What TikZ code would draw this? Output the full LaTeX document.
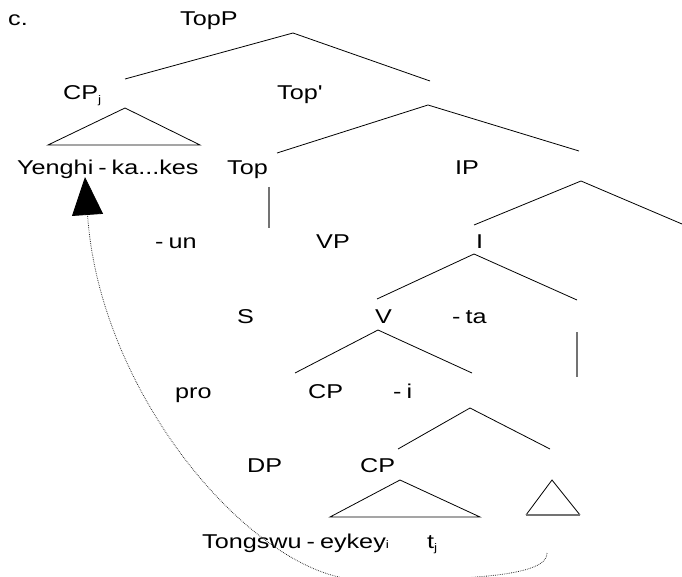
\documentclass[tikz,border=0pt]{standalone}
\usepackage{fontspec}
\setmainfont{Liberation Sans}[FakeStretch=1.26,Ligatures=TeXOff]
\usetikzlibrary{arrows.meta}
% small lowered index letter
\newcommand{\lsub}[1]{\raisebox{-0.3ex}{\fontsize{11}{11}\selectfont #1}}
% spaced hyphen between morphemes
\newcommand{\hy}{\hspace{0.25em}-\hspace{0.25em}}
\begin{document}
\begin{tikzpicture}[x=1pt,y=-1pt,
  lbl/.style={anchor=base west, inner sep=0pt, font=\fontsize{20}{23}\selectfont},
  branch/.style={line width=0.8pt, black},
  faint/.style={line width=1.1pt, black!55},
  trace/.style={draw=black!85, line width=0.8pt, dash pattern=on 0.7pt off 1.1pt,
    -{Triangle[length=38pt,width=31pt,color=black]}}]
\useasboundingbox (0,0) rectangle (682,577);

% labels
\node[lbl] (ex)    at (8,26)    {c.};
\node[lbl] (topP)  at (180,26)  {TopP};
\node[lbl] (cpj)   at (63,100)  {CP\lsub{j}};
\node[lbl] (topb)  at (277,100) {Top'};
\node[lbl] (yeng)  at (17,175)  {Yenghi\hy ka...kes};
\node[lbl] (top)   at (227,175) {Top};
\node[lbl] (ip)    at (455,175) {IP};
\node[lbl] (un)    at (155,248) {-\hspace{0.25em}un};
\node[lbl] (vp)    at (316,248) {VP};
\node[lbl] (i)     at (476,248) {I};
\node[lbl] (s)     at (237,323) {S};
\node[lbl] (v)     at (375,323) {V};
\node[lbl] (ta)    at (452,323) {-\hspace{0.25em}ta};
\node[lbl] (pro)   at (175,398) {pro};
\node[lbl] (cpa)   at (308,398) {CP};
\node[lbl] (isuf)  at (393,398) {-\hspace{0.25em}i};
\node[lbl] (dp)    at (247,472) {DP};
\node[lbl] (cpb)   at (360,472) {CP};
\node[lbl] (tong)  at (202,548) {Tongswu\hy eykey{\fontsize{11}{11}\selectfont i}};
\node[lbl] (tj)    at (427,548) {t\lsub{j}};

% branch points and branch ends
\coordinate (a1) at (293,33);  \coordinate (a1l) at (125,79);  \coordinate (a1r) at (430,81);
\coordinate (a2) at (428,105); \coordinate (a2l) at (277,153); \coordinate (a2r) at (579,151);
\coordinate (a3) at (581,181); \coordinate (a3l) at (474,225); \coordinate (a3r) at (682,224);
\coordinate (a4) at (474,254); \coordinate (a4l) at (377,299); \coordinate (a4r) at (577,300);
\coordinate (a5) at (378,330); \coordinate (a5l) at (295,373); \coordinate (a5r) at (472,373);
\coordinate (a6) at (470,408); \coordinate (a6l) at (398,449); \coordinate (a6r) at (550,449);

\draw[branch] (a1l) -- (a1) -- (a1r);
\draw[branch] (a2l) -- (a2) -- (a2r);
\draw[branch] (a3l) -- (a3) -- (a3r);
\draw[branch] (a4l) -- (a4) -- (a4r);
\draw[branch] (a5l) -- (a5) -- (a5r);
\draw[branch] (a6l) -- (a6) -- (a6r);

% unary branches
\coordinate (u1t) at (269,187); \coordinate (u1b) at (269,228);
\coordinate (u2t) at (577,332); \coordinate (u2b) at (577,377);
\draw[faint] (u1t) -- (u1b);
\draw[faint] (u2t) -- (u2b);

% triangles
\coordinate (t1) at (125,108); \coordinate (t1l) at (48,145);  \coordinate (t1r) at (200,145);
\coordinate (t2) at (400,480); \coordinate (t2l) at (330,517); \coordinate (t2r) at (480,517);
\coordinate (t3) at (552,480); \coordinate (t3l) at (526,515); \coordinate (t3r) at (580,515);
\draw[branch] (t1l) -- (t1) -- (t1r) -- cycle;
\draw[branch] (t2l) -- (t2) -- (t2r) -- cycle;
\draw[branch] (t3l) -- (t3) -- (t3r);
\draw[faint] (t3l) -- (t3r);

% movement trace
\coordinate (mvs) at (547,553);
\coordinate (mvm) at (365,580);
\coordinate (mve) at (85,177);
\draw[trace] (mvs) .. controls (548,576) and (470,580) .. (mvm)
  .. controls (260,582) and (100,400) .. (mve);
\end{tikzpicture}
\end{document}
